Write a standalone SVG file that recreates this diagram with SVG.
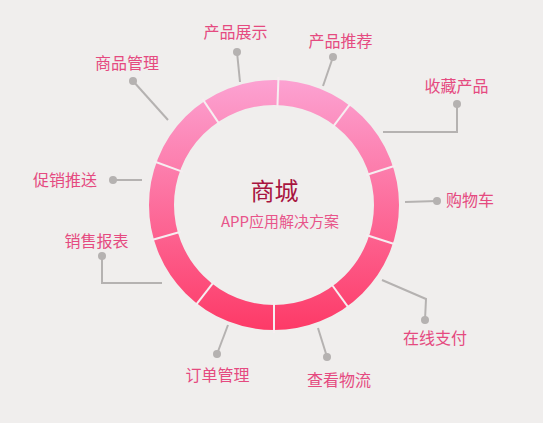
<svg xmlns="http://www.w3.org/2000/svg" width="543" height="423" viewBox="0 0 543 423">
<defs>
<linearGradient id="ringGrad" gradientUnits="userSpaceOnUse" x1="0" y1="80" x2="0" y2="330">
<stop offset="0" stop-color="#fca2d2"/>
<stop offset="1" stop-color="#fd3a67"/>
</linearGradient>
</defs>
<style>
.lbl{font-family:"Noto Sans CJK SC","Liberation Sans",sans-serif;font-size:16px;fill:#e54a80;text-anchor:middle}
.conn{fill:none;stroke:#b5b2b1;stroke-width:2}
.dot{fill:#b5b2b1}
.div{stroke:#f6eef1;stroke-width:2}
</style>
<rect width="543" height="423" fill="#f0eeed"/>
<g id="ring">
<circle cx="274" cy="205" r="112.5" fill="none" stroke="url(#ringGrad)" stroke-width="25"/>
<g class="div">
<line x1="274" y1="77" x2="274" y2="108" transform="rotate(2 274 205)"/>
<line x1="274" y1="77" x2="274" y2="108" transform="rotate(37 274 205)"/>
<line x1="274" y1="77" x2="274" y2="108" transform="rotate(72 274 205)"/>
<line x1="274" y1="77" x2="274" y2="108" transform="rotate(108 274 205)"/>
<line x1="274" y1="77" x2="274" y2="108" transform="rotate(144 274 205)"/>
<line x1="274" y1="77" x2="274" y2="108" transform="rotate(180 274 205)"/>
<line x1="274" y1="77" x2="274" y2="108" transform="rotate(218 274 205)"/>
<line x1="274" y1="77" x2="274" y2="108" transform="rotate(254 274 205)"/>
<line x1="274" y1="77" x2="274" y2="108" transform="rotate(290 274 205)"/>
<line x1="274" y1="77" x2="274" y2="108" transform="rotate(326 274 205)"/>
</g>
</g>
<g id="center">
<text x="274.5" y="200" font-family="Noto Sans CJK SC,sans-serif" font-size="24" fill="#a8143f" text-anchor="middle">商城</text>
<text x="280" y="227" font-family="Noto Sans CJK SC,sans-serif" font-size="15" fill="#e8558a" text-anchor="middle">APP应用解决方案</text>
</g>
<g id="connectors">
<path class="conn" d="M240 82 L237 52"/><circle class="dot" cx="237" cy="52" r="4"/>
<path class="conn" d="M323 86 L333 57"/><circle class="dot" cx="333" cy="57" r="4"/>
<path class="conn" d="M168 120 L133 81"/><circle class="dot" cx="133" cy="81" r="4"/>
<path class="conn" d="M142 180 L113 180"/><circle class="dot" cx="113" cy="180" r="4"/>
<path class="conn" d="M162 283 L102 283 L102 256"/><circle class="dot" cx="102" cy="256" r="4"/>
<path class="conn" d="M383 132 L457 132 L457 104"/><circle class="dot" cx="457" cy="104" r="4"/>
<path class="conn" d="M405 202 L437 201"/><circle class="dot" cx="437" cy="201" r="4"/>
<path class="conn" d="M382 280 L426 299 L425 320"/><circle class="dot" cx="425" cy="320" r="4"/>
<path class="conn" d="M228 325 L217 354"/><circle class="dot" cx="217" cy="354" r="4"/>
<path class="conn" d="M318 328 L327 357"/><circle class="dot" cx="327" cy="357" r="4"/>
</g>
<g id="n1"><text class="lbl" x="235.5" y="38">产品展示</text></g>
<g id="n2"><text class="lbl" x="340.5" y="47">产品推荐</text></g>
<g id="n3"><text class="lbl" x="127" y="69">商品管理</text></g>
<g id="n4"><text class="lbl" x="65" y="186">促销推送</text></g>
<g id="n5"><text class="lbl" x="96.5" y="247">销售报表</text></g>
<g id="n6"><text class="lbl" x="456.5" y="92">收藏产品</text></g>
<g id="n7"><text class="lbl" x="470" y="206">购物车</text></g>
<g id="n8"><text class="lbl" x="435" y="344">在线支付</text></g>
<g id="n9"><text class="lbl" x="217.5" y="381">订单管理</text></g>
<g id="n10"><text class="lbl" x="339" y="386">查看物流</text></g>
</svg>
